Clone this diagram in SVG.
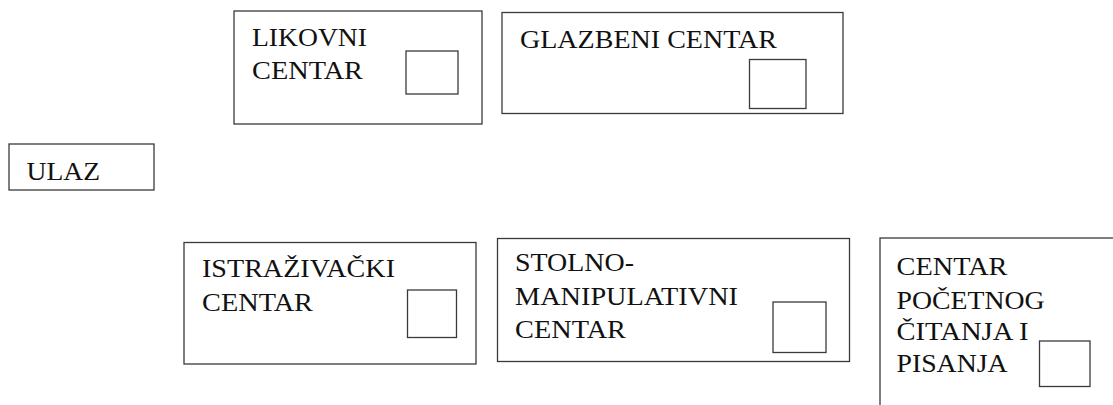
<svg xmlns="http://www.w3.org/2000/svg" width="1113" height="405" viewBox="0 0 1113 405">
<style>
.box{fill:#fff;stroke:#3a3a3a;stroke-width:1.3}
.sq{fill:#fff;stroke:#3a3a3a;stroke-width:1.3}
text{font-family:'Liberation Serif','DejaVu Serif','Times New Roman',Times,serif;font-size:24.5px;fill:#111}
</style>
<rect width="1113" height="405" fill="#fff"/>
<g id="likovni">
<rect class="box" x="234" y="11" width="248" height="113"/>
<rect class="sq" x="406" y="51" width="52" height="43"/>
<text font-family="Liberation Serif, DejaVu Serif, serif" x="252" y="46" textLength="115" lengthAdjust="spacingAndGlyphs">LIKOVNI</text>
<text font-family="Liberation Serif, DejaVu Serif, serif" x="252" y="79" textLength="111" lengthAdjust="spacingAndGlyphs">CENTAR</text>
</g>
<g id="glazbeni">
<rect class="box" x="502" y="12.5" width="341" height="101"/>
<rect class="sq" x="749.5" y="59.5" width="56.5" height="49"/>
<text font-family="Liberation Serif, DejaVu Serif, serif" x="520" y="48" textLength="257" lengthAdjust="spacingAndGlyphs">GLAZBENI CENTAR</text>
</g>
<g id="ulaz">
<rect class="box" x="9" y="144" width="145" height="46"/>
<text font-family="Liberation Serif, DejaVu Serif, serif" x="26.5" y="180" textLength="73.5" lengthAdjust="spacingAndGlyphs">ULAZ</text>
</g>
<g id="istrazivacki">
<rect class="box" x="184" y="242.5" width="292" height="121.5"/>
<rect class="sq" x="407.5" y="290" width="49" height="47.5"/>
<text font-family="Liberation Serif, DejaVu Serif, serif" x="202" y="277" textLength="193" lengthAdjust="spacingAndGlyphs">ISTRAŽIVAČKI</text>
<text font-family="Liberation Serif, DejaVu Serif, serif" x="202" y="311" textLength="111" lengthAdjust="spacingAndGlyphs">CENTAR</text>
</g>
<g id="stolno">
<rect class="box" x="497.5" y="238.5" width="352" height="123"/>
<rect class="sq" x="773" y="302" width="53" height="50.5"/>
<text font-family="Liberation Serif, DejaVu Serif, serif" x="515" y="271" textLength="119" lengthAdjust="spacingAndGlyphs">STOLNO-</text>
<text font-family="Liberation Serif, DejaVu Serif, serif" x="515" y="305" textLength="223" lengthAdjust="spacingAndGlyphs">MANIPULATIVNI</text>
<text font-family="Liberation Serif, DejaVu Serif, serif" x="515" y="338" textLength="111" lengthAdjust="spacingAndGlyphs">CENTAR</text>
</g>
<g id="citanje">
<rect class="box" x="880" y="238" width="260" height="200"/>
<rect class="sq" x="1039.5" y="341" width="50.5" height="45.5"/>
<text font-family="Liberation Serif, DejaVu Serif, serif" x="896.5" y="275" textLength="111" lengthAdjust="spacingAndGlyphs">CENTAR</text>
<text font-family="Liberation Serif, DejaVu Serif, serif" x="896.5" y="308.5" textLength="148" lengthAdjust="spacingAndGlyphs">POČETNOG</text>
<text font-family="Liberation Serif, DejaVu Serif, serif" x="896.5" y="340" textLength="132" lengthAdjust="spacingAndGlyphs">ČITANJA I</text>
<text font-family="Liberation Serif, DejaVu Serif, serif" x="896.5" y="372" textLength="111" lengthAdjust="spacingAndGlyphs">PISANJA</text>
</g>
<g id="connectors"></g>
</svg>
